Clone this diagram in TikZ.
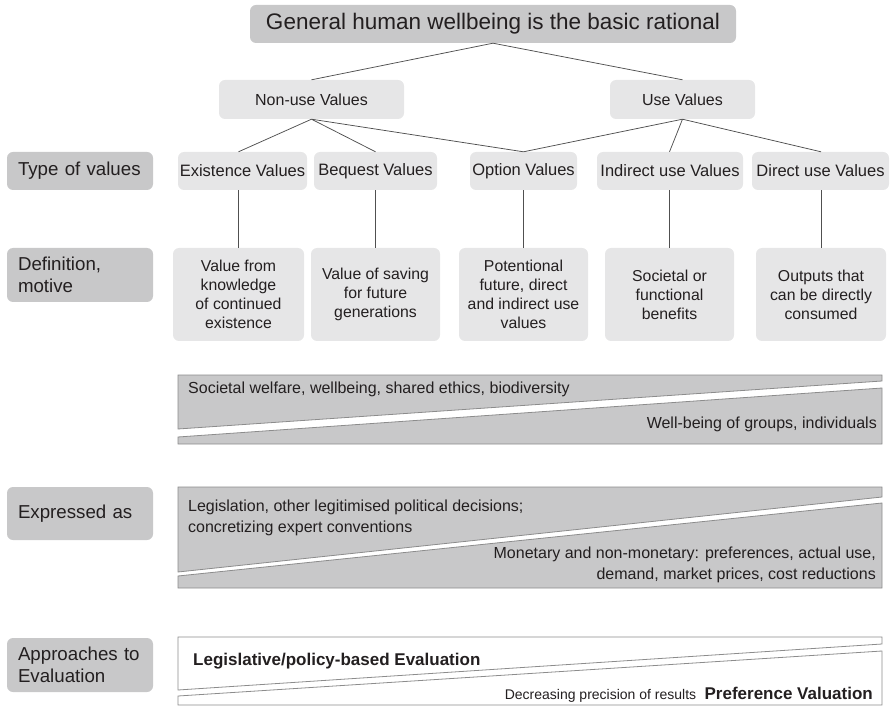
\documentclass[tikz,border=0pt]{standalone}
\usepackage{fontspec}
\setmainfont{Liberation Sans}
\usetikzlibrary{calc}
\definecolor{boxdark}{HTML}{C8C8C9}
\definecolor{boxlight}{HTML}{E6E6E7}
\definecolor{edgegray}{HTML}{8C8C8C}
\definecolor{linegray}{HTML}{505050}
\definecolor{ink}{HTML}{231F20}
\begin{document}
\begin{tikzpicture}[x=1pt,y=-1pt,
  basebox/.style={rounded corners=6pt, inner sep=0pt, text=ink, align=center},
  headbox/.style={basebox, fill=boxdark, font=\fontsize{22.5}{26}\selectfont},
  groupbox/.style={basebox, fill=boxlight, minimum height=39, font=\fontsize{16}{19}\selectfont},
  typebox/.style={basebox, fill=boxlight, minimum height=38, font=\fontsize{16.5}{19}\selectfont},
  defbox/.style={basebox, fill=boxlight, minimum height=93, font=\fontsize{15.8}{19}\selectfont},
  rowlabel/.style={basebox, fill=boxdark, inner xsep=11pt, text width=124pt, align=left,
    font=\fontsize{18.7}{22}\selectfont},
  link/.style={draw=linegray, line width=0.75pt},
  band/.style={fill=boxdark, draw=edgegray, line width=0.8pt},
  openband/.style={fill=white, draw=edgegray, line width=0.8pt},
  bandtext/.style={inner sep=0pt, text=ink, font=\fontsize{16}{21}\selectfont},
]
\useasboundingbox (0,0) rectangle (891,708);

% hierarchy of values
\node[headbox, minimum width=486, minimum height=38] (top) at (493,24) {General human wellbeing is the basic rational};
\node[groupbox, minimum width=185] (nonuse) at (311.5,99.5) {Non-use Values};
\node[groupbox, minimum width=145] (use) at (682.5,99.5) {Use Values};

\node[typebox, minimum width=129] (ex)  at (242.5,171) {Existence Values};
\node[typebox, minimum width=123] (bq)  at (375.5,171) {Bequest Values};
\node[typebox, minimum width=107] (op)  at (523.5,171) {Option Values};
\node[typebox, minimum width=146] (ind) at (670,171)   {Indirect use Values};
\node[typebox, minimum width=137] (dir) at (820.5,171) {Direct use Values};

\node[defbox, minimum width=131] (exd)  at (238.5,294.5) {Value from\\knowledge\\of continued\\existence};
\node[defbox, minimum width=129] (bqd)  at (375.5,294.5) {Value of saving\\for future\\generations};
\node[defbox, minimum width=129] (opd)  at (523.5,294.5) {Potentional\\future, direct\\and indirect use\\values};
\node[defbox, minimum width=129] (indd) at (669.5,294.5) {Societal or\\functional\\benefits};
\node[defbox, minimum width=130] (dird) at (821,294.5)   {Outputs that\\can be directly\\consumed};

% row labels
\node[rowlabel, minimum height=38] (l1) at (80,171)   {Type of values};
\node[rowlabel, minimum height=54] (l2) at (80,275)   {Definition,\\motive};
\node[rowlabel, minimum height=53] (l3) at (80,513.5) {Expressed as};
\node[rowlabel, minimum height=54] (l4) at (80,665)   {Approaches to\\Evaluation};

% connectors
\draw[link] (top.south) -- (nonuse.north);
\draw[link] (top.south) -- (use.north);
\draw[link] (nonuse.south) -- (ex.north -| exd.north);
\draw[link] (nonuse.south) -- (bq.north -| bqd.north);
\draw[link] (nonuse.south) -- (op.north -| opd.north);
\draw[link] (use.south) -- (op.north -| opd.north);
\draw[link] (use.south) -- (ind.north -| indd.north);
\draw[link] (use.south) -- (dir.north -| dird.north);
\draw[link] (exd.north) -- (exd.north |- ex.south);
\draw[link] (bqd.north) -- (bqd.north |- bq.south);
\draw[link] (opd.north) -- (opd.north |- op.south);
\draw[link] (indd.north) -- (indd.north |- ind.south);
\draw[link] (dird.north) -- (dird.north |- dir.south);

% welfare band
\draw[band] (178,375) -- (882,375) -- (882,381) -- (178,429) -- cycle;
\draw[band] (178,437) -- (882,388) -- (882,444) -- (178,444) -- cycle;
\node[bandtext, anchor=base west] (w1) at (188,393) {Societal welfare, wellbeing, shared ethics, biodiversity};
\node[bandtext, anchor=base east] (w2) at (877,428) {Well-being of groups, individuals};

% expression band
\draw[band] (178,487) -- (882,487) -- (882,497) -- (178,572) -- cycle;
\draw[band] (178,576) -- (882,503) -- (882,588) -- (178,588) -- cycle;
\node[bandtext, anchor=base west, align=left] (e1) at (188,532) {Legislation, other legitimised political decisions;\\concretizing expert conventions};
\node[bandtext, anchor=base east, align=right] (e2) at (876,579) {Monetary and non-monetary: preferences, actual use,\\demand, market prices, cost reductions};

% evaluation band
\draw[openband] (178,637) -- (882,637) -- (882,644) -- (178,690) -- cycle;
\draw[openband] (178,696) -- (882,651) -- (882,705) -- (178,705) -- cycle;
\node[bandtext, anchor=base west, font=\fontsize{17}{20}\selectfont\bfseries] (a1) at (193,665) {Legislative/policy-based Evaluation};
\node[bandtext, anchor=base east, font=\fontsize{17}{20}\selectfont\bfseries] (a2) at (873,699) {Preference Valuation};
\node[bandtext, anchor=base east, font=\fontsize{14}{17}\selectfont] (a3) at ([xshift=-8pt]a2.base west) {Decreasing precision of results};
\end{tikzpicture}
\end{document}
